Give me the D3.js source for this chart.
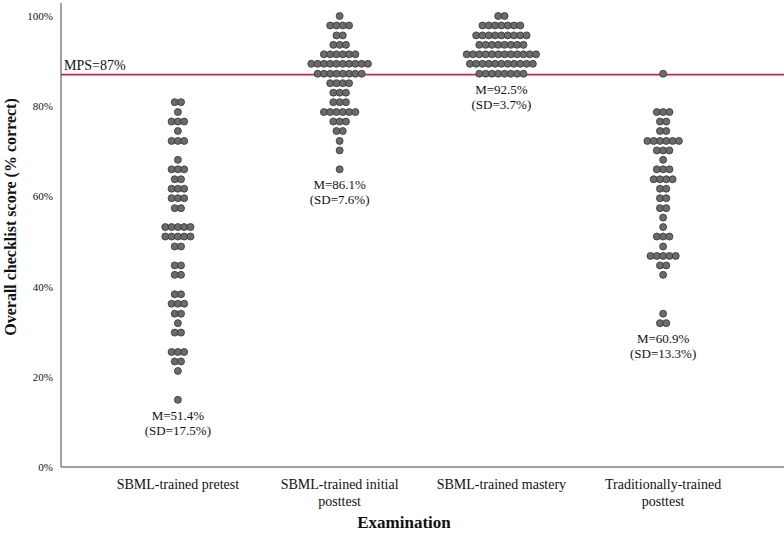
<!DOCTYPE html>
<html><head><meta charset="utf-8">
<script src="https://cdn.jsdelivr.net/npm/d3@7"></script>
<style>body{margin:0;background:#fff}svg{display:block}text{font-family:"Liberation Serif","Times New Roman",serif;fill:#111}</style>
</head><body>
<svg id="c" width="784" height="533"></svg>
<script>
const categories = ["SBML-trained pretest", "SBML-trained initial posttest", "SBML-trained mastery", "Traditionally-trained posttest"];
const categoryLines = [["SBML-trained pretest"], ["SBML-trained initial", "posttest"], ["SBML-trained mastery"], ["Traditionally-trained", "posttest"]];

// Score rows (percent correct) and number of trainees at each score
const pretestScores = [80.9, 78.7, 76.6, 74.5, 72.3, 68.1, 66.0, 63.8, 61.7, 59.6, 57.4, 53.2, 51.1, 48.9, 44.7, 42.6, 38.3, 36.2, 34.0, 31.9, 29.8, 25.5, 23.4, 21.3, 14.9];
const pretestCounts = [2, 1, 3, 1, 3, 1, 3, 2, 3, 3, 2, 5, 5, 2, 2, 2, 2, 3, 2, 1, 2, 3, 2, 1, 1];
const initialScores = [100, 97.9, 95.7, 93.6, 91.5, 89.4, 87.2, 85.1, 83.0, 80.9, 78.7, 76.6, 74.5, 72.3, 70.2, 66.0];
const initialCounts = [1, 4, 2, 3, 6, 10, 8, 4, 3, 3, 6, 3, 2, 1, 1, 1];
const masteryScores = [100, 97.9, 95.7, 93.6, 91.5, 89.4, 87.2];
const masteryCounts = [2, 7, 9, 8, 12, 11, 8];
const traditionalScores = [87.2, 78.7, 76.6, 74.5, 72.3, 70.2, 68.1, 66.0, 63.8, 61.7, 59.6, 57.4, 55.3, 53.2, 51.1, 48.9, 46.8, 44.7, 42.6, 34.0, 31.9];
const traditionalCounts = [1, 3, 2, 2, 6, 3, 1, 3, 4, 2, 2, 2, 1, 1, 3, 1, 5, 2, 1, 1, 2];

const means = [51.4, 86.1, 92.5, 60.9];
const sds = [17.5, 7.6, 3.7, 13.3];
const mps = 87;
const yTicks = [0, 20, 40, 60, 80, 100];

const groups = [
  [pretestScores, pretestCounts],
  [initialScores, initialCounts],
  [masteryScores, masteryCounts],
  [traditionalScores, traditionalCounts]
];

const svg = d3.select("#c");
const mLeft = 61, mRight = 784, mTop = 3, mBottom = 467;
const y = d3.scaleLinear().domain([0, 100]).range([mBottom, 16]);
const x = d3.scaleBand().domain(categories).range([97, 744]);
const cx = c => x(c) + x.bandwidth() / 2;

// axes lines
svg.append("line").attr("x1", mLeft).attr("x2", mLeft).attr("y1", mTop).attr("y2", mBottom).attr("stroke", "#444").attr("stroke-width", 1);
svg.append("line").attr("x1", mLeft).attr("x2", mRight).attr("y1", mBottom).attr("y2", mBottom).attr("stroke", "#444").attr("stroke-width", 1);

// y tick labels
svg.append("g").selectAll("text").data(yTicks).join("text")
  .attr("x", 53).attr("y", d => y(d) + 4)
  .attr("text-anchor", "end").style("font-size", "11px")
  .text(d => d + "%");

// y title
svg.append("text").attr("transform", `translate(16,217) rotate(-90)`)
  .attr("text-anchor", "middle").style("font-size", "16px").style("font-weight", "bold")
  .text("Overall checklist score (% correct)");

// x title
svg.append("text").attr("x", 404).attr("y", 528).attr("text-anchor", "middle")
  .style("font-size", "17px").style("font-weight", "bold").text("Examination");

// category labels
categories.forEach((c, i) => {
  const t = svg.append("text").attr("text-anchor", "middle").style("font-size", "14px");
  categoryLines[i].forEach((ln, j) => {
    t.append("tspan").attr("x", cx(c)).attr("y", 489 + j * 17).text(ln);
  });
});

// MPS line
svg.append("line").attr("x1", mLeft).attr("x2", mRight).attr("y1", y(mps)).attr("y2", y(mps))
  .attr("stroke", "#c8234d").attr("stroke-width", 1.6);
svg.append("text").attr("x", 64).attr("y", y(mps) - 5).style("font-size", "14px").text(`MPS=${mps}%`);

// dots
const step = 6.3, r = 3.5;
groups.forEach(([scores, counts], gi) => {
  const c = categories[gi];
  const pts = [];
  scores.forEach((s, k) => {
    const n = counts[k];
    for (let i = 0; i < n; i++) pts.push({ s, off: i - (n - 1) / 2 });
  });
  svg.append("g").selectAll("circle").data(pts).join("circle")
    .attr("cx", d => cx(c) + d.off * step)
    .attr("cy", d => y(d.s))
    .attr("r", r)
    .attr("fill", "#6b6b6b").attr("stroke", "#333").attr("stroke-width", 0.8);

  const low = y(d3.min(scores));
  const t = svg.append("text").attr("text-anchor", "middle").style("font-size", "13px");
  t.append("tspan").attr("x", cx(c)).attr("y", low + 20).text(`M=${means[gi]}%`);
  t.append("tspan").attr("x", cx(c)).attr("y", low + 35).text(`(SD=${sds[gi]}%)`);
});
</script>
</body></html>
